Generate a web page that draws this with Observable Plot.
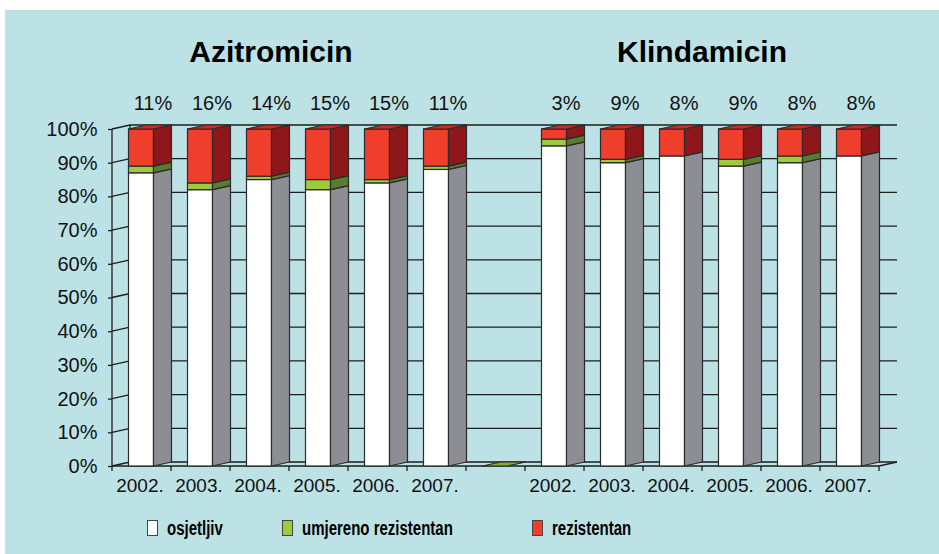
<!DOCTYPE html>
<html><head><meta charset="utf-8">
<script src="https://cdn.jsdelivr.net/npm/d3@7"></script>
<script src="https://cdn.jsdelivr.net/npm/@observablehq/plot@0.6"></script>
<style>
html,body{margin:0;padding:0;background:#fff;}
#wrap{position:relative;width:939px;height:554px;overflow:hidden;font-family:"Liberation Sans",Arial,sans-serif;color:#111;}
#panel{position:absolute;left:5px;top:10px;right:0;bottom:0;background:#bde2e6;}
#chart{position:absolute;left:0;top:0;}
.title{position:absolute;top:37px;width:300px;margin-left:-150px;text-align:center;font-weight:bold;font-size:30px;line-height:30px;color:#000;}
.leg{position:absolute;top:519px;font-family:"Liberation Sans",Arial,sans-serif;font-weight:bold;font-size:20px;line-height:18px;white-space:nowrap;color:#000;transform:scaleX(0.75);transform-origin:0 0;}
.sw{position:absolute;top:520px;width:9px;height:14px;border:1px solid #444;}
</style></head>
<body>
<div id="wrap">
  <div id="panel"></div>
  <div id="chart"></div>
  <div class="title" style="left:271px">Azitromicin</div>
  <div class="title" style="left:702px">Klindamicin</div>
  <div id="legend"></div>
</div>
<script>
// ---- data ----
const drugs = ["Azitromicin", "Klindamicin"];
const years = ["2002.", "2003.", "2004.", "2005.", "2006.", "2007."];
const seriesNames = ["osjetljiv", "umjereno rezistentan", "rezistentan"];
const azitromicinOsjetljiv = [87, 82, 85, 82, 84, 88];
const azitromicinUmjereno  = [2, 2, 1, 3, 1, 1];
const azitromicinRezistent = [11, 16, 14, 15, 15, 11];
const klindamicinOsjetljiv = [95, 90, 92, 89, 90, 92];
const klindamicinUmjereno  = [2, 1, 0, 2, 2, 0];
const klindamicinRezistent = [3, 9, 8, 9, 8, 8];
const yTicks = [0, 10, 20, 30, 40, 50, 60, 70, 80, 90, 100];

// ---- styles ----
const frontColors = ["#ffffff", "#9ccb3d", "#ef3e2b"];
const sideColors  = ["#8d8e93", "#5a7c2e", "#8d171b"];
const topColors   = ["#e9e9e9", "#7fae2f", "#d22b21"];
const legendLeft  = [147, 282, 532];
const DX = 18, DY = -4, INSET_L = 16.5, INSET_R = 17.5;
const STROKE = "#2b2b2b";

// ---- build tables ----
const gapKey = "gap";
const keys = [];
const labelOf = {};
const stacks = {};
const rows = [];
const pctRows = [];
const sets = [
  [azitromicinOsjetljiv, azitromicinUmjereno, azitromicinRezistent],
  [klindamicinOsjetljiv, klindamicinUmjereno, klindamicinRezistent]
];
drugs.forEach((drug, di) => {
  if (di > 0) { keys.push(gapKey); labelOf[gapKey] = ""; stacks[gapKey] = [0, 0, 0]; }
  years.forEach((yr, i) => {
    const k = drug + " " + yr;
    keys.push(k); labelOf[k] = yr;
    const vals = sets[di].map(a => a[i]);
    stacks[k] = vals;
    vals.forEach((v, s) => rows.push({key: k, series: seriesNames[s], value: v}));
    pctRows.push({key: k, text: vals[2] + "%"});
  });
});

// ---- custom marks drawn through the plot's scales ----
function wallAndFloor(index, scales, values, dims) {
  const x = scales.x, y = scales.y;
  const x0 = dims.marginLeft, x1 = dims.width - dims.marginRight;
  const g = d3.create("svg:g").attr("fill", "none").attr("stroke", "#1e1e1e").attr("stroke-width", 1.3);
  const y0 = y(0), yTop = y(100);
  for (const t of yTicks) {
    const yy = y(t);
    g.append("path").attr("d", `M${x0},${yy}L${x0 + DX},${yy + DY}L${x1 + DX},${yy + DY}`);
  }
  g.append("path").attr("d", `M${x0},${y0}L${x1},${y0}L${x1 + DX},${y0 + DY}`);
  g.append("path").attr("d", `M${x0},${y0}L${x0},${yTop}`);
  g.append("path").attr("d", `M${x0 + DX},${y0 + DY}L${x0 + DX},${yTop + DY}`);
  const step = x(keys[1]) - x(keys[0]);
  keys.forEach(k => g.append("path").attr("d", `M${x(k)},${y0}L${x(k)},${y0 + 5}`));
  g.append("path").attr("d", `M${x(keys[keys.length - 1]) + step},${y0}L${x(keys[keys.length - 1]) + step},${y0 + 5}`);
  return g.node();
}

function depthFaces(index, scales, values, dims) {
  const x = scales.x, y = scales.y;
  const step = x(keys[1]) - x(keys[0]);
  const g = d3.create("svg:g").attr("stroke", STROKE).attr("stroke-width", 1.2).attr("stroke-linejoin", "round");
  for (const k of keys) {
    const vals = stacks[k];
    const fl = x(k) + INSET_L, fr = x(k) + step - INSET_R;
    let lo = 0, topSeries = 1;
    vals.forEach((v, s) => {
      if (v <= 0) return;
      const hi = lo + v;
      const a = y(lo), b = y(hi);
      g.append("path").attr("fill", sideColors[s])
        .attr("d", `M${fr},${a}L${fr + DX},${a + DY}L${fr + DX},${b + DY}L${fr},${b}Z`);
      lo = hi; topSeries = s;
    });
    const t = y(lo);
    g.append("path").attr("fill", topColors[topSeries])
      .attr("d", `M${fl},${t}L${fr},${t}L${fr + DX},${t + DY}L${fl + DX},${t + DY}Z`);
  }
  return g.node();
}

const plot = Plot.plot({
  width: 939, height: 554,
  marginLeft: 112, marginRight: 60, marginTop: 129, marginBottom: 88,
  style: {background: "transparent", fontFamily: "'Liberation Sans', Arial, sans-serif", color: "#111", overflow: "visible"},
  x: {domain: keys, padding: 0, label: null},
  y: {domain: [0, 100], label: null},
  color: {domain: seriesNames, range: frontColors},
  marks: [
    wallAndFloor,
    Plot.barY(rows, {x: "key", y: "value", fill: "series", order: seriesNames,
      insetLeft: INSET_L, insetRight: INSET_R, insetTop: 0, insetBottom: 0, stroke: STROKE, strokeWidth: 1.2}),
    depthFaces,
    Plot.axisY({ticks: yTicks, tickSize: 4, tickPadding: 11, fontSize: 20, tickFormat: d => d + "%", stroke: "#1e1e1e", strokeWidth: 1.3}),
    Plot.axisX({tickSize: 0, tickPadding: 12, fontSize: 19, dx: -2, tickFormat: k => labelOf[k]}),
    Plot.text(pctRows, {x: "key", y: () => 100, text: "text", dx: 11, dy: -26, fontSize: 20, fill: "#111"})
  ]
});
document.getElementById("chart").appendChild(plot);

// ---- legend ----
const legend = document.getElementById("legend");
seriesNames.forEach((name, i) => {
  const sw = document.createElement("div");
  sw.className = "sw";
  sw.style.left = legendLeft[i] + "px";
  sw.style.background = frontColors[i];
  legend.appendChild(sw);
  const tx = document.createElement("div");
  tx.className = "leg";
  tx.style.left = (legendLeft[i] + 20) + "px";
  tx.textContent = name;
  legend.appendChild(tx);
});
</script>
</body></html>
